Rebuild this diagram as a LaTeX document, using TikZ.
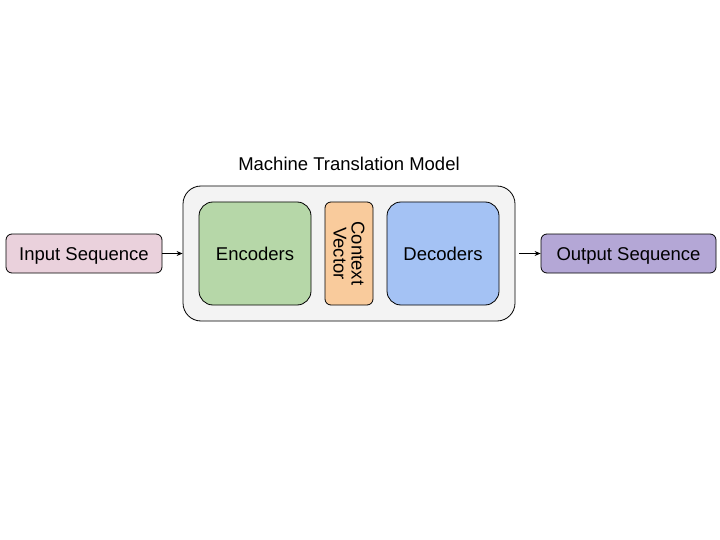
\documentclass[tikz,border=0pt]{standalone}
\usepackage{fontspec}
\setmainfont{Liberation Sans}
\usetikzlibrary{arrows.meta}
\definecolor{inpink}{HTML}{EAD1DC}
\definecolor{modelgray}{HTML}{F3F3F3}
\definecolor{encgreen}{HTML}{B6D7A8}
\definecolor{ctxorange}{HTML}{F9CB9C}
\definecolor{decblue}{HTML}{A4C2F4}
\definecolor{outpurple}{HTML}{B4A7D6}
\begin{document}
\begin{tikzpicture}[x=1pt, y=-1pt,
    box/.style={draw=black, line width=0.8pt, rounded corners=6pt, inner sep=0pt},
    lbl/.style={font=\fontsize{18.5}{21}\selectfont},
    boxlbl/.style={lbl, text height=14pt, text depth=0pt},
    link/.style={-{Stealth[length=6pt, width=5pt]}, line width=0.8pt}]
    \useasboundingbox[fill=white] (0,0) rectangle (720,540);
    \node[lbl] (title) at (349, 164) {Machine Translation Model};
    \node[box, fill=inpink, minimum width=156pt, minimum height=39pt, boxlbl] (input) at (84, 253.5) {Input Sequence};
    \node[box, fill=modelgray, rounded corners=18pt, minimum width=332pt, minimum height=135pt] (model) at (349, 253.5) {};
    \node[box, fill=encgreen, rounded corners=14pt, minimum width=112pt, minimum height=103pt, boxlbl] (enc) at (255, 253.5) {Encoders};
    \node[box, fill=ctxorange, minimum width=48pt, minimum height=103pt] (ctx) at (349, 253.5) {};
    \node[lbl, rotate=-90, align=center] (ctxtext) at (ctx.center) {Context\\[-3pt]Vector};
    \node[box, fill=decblue, rounded corners=14pt, minimum width=112pt, minimum height=103pt, boxlbl] (dec) at (443, 253.5) {Decoders};
    \node[box, fill=outpurple, minimum width=175pt, minimum height=39pt, boxlbl] (output) at (628.5, 253.5) {Output Sequence};
    \coordinate (modelout) at ([xshift=4pt]model.east);
    \draw[link] (input) -- (model);
    \draw[link] (modelout) -- (output);
\end{tikzpicture}
\end{document}
